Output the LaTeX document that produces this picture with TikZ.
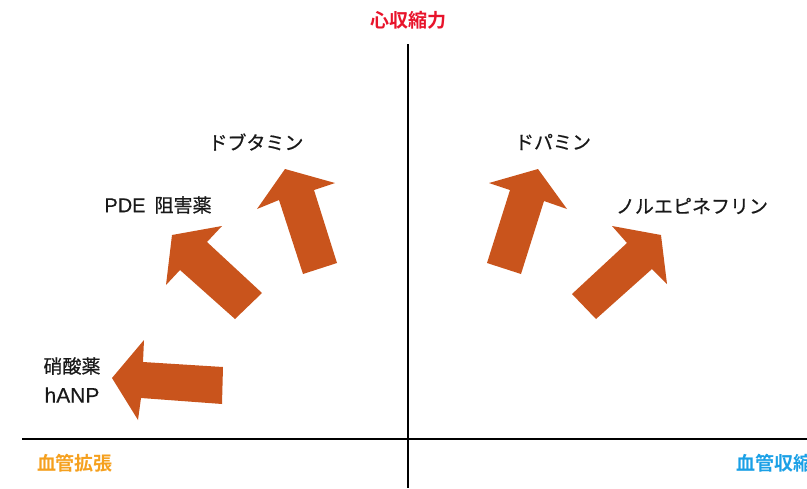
\documentclass[tikz,border=0pt]{standalone}
\usepackage{fontspec}
\newfontfamily\jp[FakeBold=0.6]{Noto Sans CJK JP}
\newfontfamily\jpb{Noto Sans CJK JP Bold}
\newfontfamily\lat[FakeBold=0.3]{Liberation Sans}
\definecolor{arrowor}{RGB}{201,84,28}
\definecolor{labred}{RGB}{232,20,43}
\definecolor{labor}{RGB}{245,160,30}
\definecolor{labblue}{RGB}{26,160,230}
\tikzset{
  fat/.style={fill=arrowor, draw=none},
  axis/.style={line width=2pt, black},
  drug/.style={font=\jp\fontsize{19}{22}\selectfont, text=black!90, inner sep=0pt},
  axlab/.style={font=\jpb\fontsize{19}{22}\selectfont, inner sep=0pt}
}
\begin{document}
\begin{tikzpicture}[x=1pt,y=-1pt]
\useasboundingbox (0,0) rectangle (807,488);
\clip (0,0) rectangle (807,488);
% axes
\coordinate (hl) at (22,439);
\coordinate (hr) at (807,439);
\coordinate (vt) at (408,44);
\coordinate (vb) at (408,488);
\draw[axis] (hl) -- (hr);
\draw[axis] (vt) -- (vb);
% axis labels
\node[axlab, text=labred] (kontr) at (408,20) {心収縮力};
\node[axlab, text=labor] (dil) at (75,463) {血管拡張};
\node[axlab, text=labblue, anchor=west] (con) at (736,463) {血管収縮};
% drug labels
\node[drug] (dob) at (256,142) {ドブタミン};
\node[drug] (pde) at (158,205) {{\lat\fontsize{20}{22}\selectfont PDE}\hspace{9pt}阻害薬};
\node[drug] (dop) at (553,142) {ドパミン};
\node[drug] (nor) at (692,206) {ノルエピネフリン};
\node[drug] (nit) at (72,366) {硝酸薬};
\node[drug, font=\lat\fontsize{21}{24}\selectfont] (hanp) at (72,395) {hANP};
% arrows
\fill[fat] (112,378) -- (144,340) -- (143,362) -- (223,367) -- (222,404) -- (141,398) -- (138,420) -- cycle;
\fill[fat] (172,235) -- (222,226) -- (207,242) -- (262,293) -- (235,319) -- (180,270) -- (166,285) -- cycle;
\fill[fat] (285,169) -- (335,183) -- (314,190) -- (337,263) -- (303,274) -- (279,200) -- (257,209) -- cycle;
\fill[fat] (538,169) -- (567,209) -- (544,201) -- (521,274) -- (487,263) -- (510,190) -- (489,183) -- cycle;
\fill[fat] (661,235) -- (667,284) -- (652,269) -- (596,319) -- (572,294) -- (627,243) -- (612,226) -- cycle;
\end{tikzpicture}
\end{document}
